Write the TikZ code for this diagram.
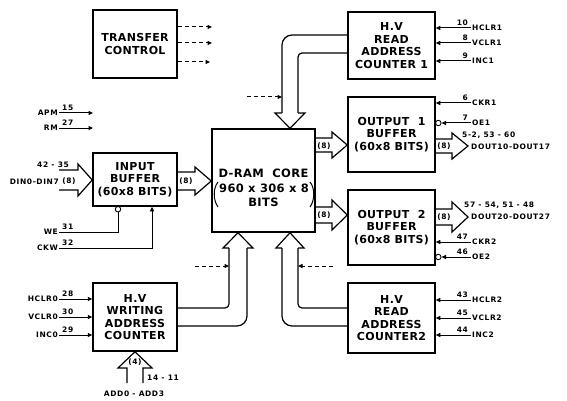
\documentclass[tikz,border=0pt]{standalone}
\usepackage{fontspec}
\setmainfont{DejaVu Sans}
\newfontfamily\myboxfam[LetterSpace=3]{DejaVu Sans Bold}
\newfontfamily\mylblfam[LetterSpace=8]{DejaVu Sans Bold}
\newcommand\myboxfont{\myboxfam\fontsize{11}{12.5}\selectfont}
\newcommand\mycorefont{\myboxfam\fontsize{11.5}{14.5}\selectfont}
\newcommand\mylblfont{\mylblfam\fontsize{7.5}{9}\selectfont}
\usetikzlibrary{arrows.meta,calc}
\begin{document}
\begin{tikzpicture}[x=1pt,y=-1pt,
  box/.style={draw,line width=1.5pt,inner sep=0pt,align=center,font=\myboxfont},
  ctxt/.style={font=\mycorefont,inner sep=0pt},
  sig/.style={line width=1pt,-{Triangle[length=4.5pt,width=4pt]}},
  wire/.style={line width=1pt},
  dsh/.style={line width=1pt,dash pattern=on 4pt off 3pt,-{Triangle[length=4.5pt,width=4pt]}},
  bus/.style={line width=1.2pt,line join=miter},
  lbl/.style={font=\mylblfont,inner sep=1pt},
  inv/.style={circle,draw,line width=0.9pt,inner sep=0pt,minimum size=5.5pt}]
\useasboundingbox (0,0) rectangle (567,401);

% ---------- boxes ----------
\node[box,minimum width=84pt,minimum height=68pt] (tc) at (135,44) {TRANSFER\\CONTROL};
\node[box,minimum width=87pt,minimum height=67pt] (rc1) at (391.5,45.5) {H.V\\READ\\ADDRESS\\COUNTER 1};
\node[box,minimum width=87pt,minimum height=75pt] (ob1) at (391.5,134.5) {OUTPUT\ \ 1\\BUFFER\\(60x8 BITS)};
\node[box,minimum width=87pt,minimum height=75pt] (ob2) at (391.5,227.5) {OUTPUT\ \ 2\\BUFFER\\(60x8 BITS)};
\node[box,minimum width=87pt,minimum height=70pt] (rc2) at (391.5,318) {H.V\\READ\\ADDRESS\\COUNTER2};
\node[box,minimum width=103pt,minimum height=103pt] (core) at (263.5,180.5) {};
\node[ctxt] (core1) at (263.5,173) {D-RAM\ \ CORE};
\node[ctxt] (core2) at (264,188) {960 x 306 x 8};
\node[ctxt] (core3) at (263.5,202) {BITS};
\draw[wire] ($(core2.west)+(-1,-6)$) .. controls ($(core2.west)+(-6,0)$) and ($(core2.west)+(-6,12)$) .. ($(core2.west)+(-1,19)$);
\draw[wire] ($(core2.east)+(1,-6)$) .. controls ($(core2.east)+(6,0)$) and ($(core2.east)+(6,12)$) .. ($(core2.east)+(1,19)$);
\node[box,minimum width=84pt,minimum height=53pt] (ib) at (135,179.5) {INPUT\\BUFFER\\(60x8 BITS)};
\node[box,minimum width=84pt,minimum height=68pt] (wc) at (135,317) {H.V\\WRITING\\ADDRESS\\COUNTER};

% ---------- transfer control dashed outputs ----------
\coordinate (tc1) at (212,27);
\coordinate (tc2) at (212,43);
\coordinate (tc3) at (210,62);
\draw[dsh] (tc.east|-tc1) -- (tc1);
\draw[dsh] (tc.east|-tc2) -- (tc2);
\draw[dsh] (tc.east|-tc3) -- (tc3);

% ---------- APM / RM ----------
\node[lbl,anchor=east] (tapm) at (59,113) {APM};
\node[lbl,anchor=south west] (n15) at (61,112) {15};
\coordinate (apmend) at (93,113);
\draw[sig] (tapm.east) -- (apmend);
\node[lbl,anchor=east] (trm) at (59,128) {RM};
\node[lbl,anchor=south west] (n27) at (61,127) {27};
\coordinate (rmend) at (93,128);
\draw[sig] (trm.east) -- (rmend);

% ---------- data input ----------
\node[lbl,anchor=east,inner sep=0pt] (tdin) at (59,182) {DIN0-DIN7};
\node[lbl] (n4235) at (53,165) {42 - 35};
\draw[bus] (tdin.east|-0,170) -- (78,170) -- (78,164) -- (ib.west|-0,180) -- (78,196) -- (78,190) -- (tdin.east|-0,190);
\node[lbl] (b8a) at (69,181) {(8)};

% WE / CKW
\node[lbl,anchor=east] (twe) at (59,232) {WE};
\node[lbl,anchor=south west] (n31) at (61,231) {31};
\node[inv] (invwe) at (118,209.2) {};
\draw[wire] (twe.east) -| (invwe.south);
\node[lbl,anchor=east] (tckw) at (59,248) {CKW};
\node[lbl,anchor=south west] (n32) at (61,247) {32};
\draw[sig] (tckw.east) -| (ib.south-|152,0);

% ib -> core
\draw[bus] (ib.east|-0,172) -- (195,172) -- (195,167) -- (core.west|-0,181) -- (195,195) -- (195,190) -- (ib.east|-0,190);
\node[lbl] (b8b) at (186,181) {(8)};

% core -> ob1, ob2
\draw[bus] (core.east|-0,138) -- (332,138) -- (332,132) -- (ob1.west|-0,145) -- (332,158) -- (332,152) -- (core.east|-0,152);
\node[lbl] (b8c) at (324,146) {(8)};
\draw[bus] (core.east|-0,207) -- (332,207) -- (332,200) -- (ob2.west|-0,215) -- (332,230) -- (332,223) -- (core.east|-0,223);
\node[lbl] (b8d) at (324,215.5) {(8)};

% ob1, ob2 -> outputs
\coordinate (dout1) at (468,146);
\draw[bus] (ob1.east|-0,139) -- (452,139) -- (452,133) -- (dout1) -- (452,159) -- (452,153) -- (ob1.east|-0,153);
\node[lbl] (b8e) at (444,146) {(8)};
\node[lbl,anchor=west] (t1a) at (461,135) {5-2, 53 - 60};
\node[lbl,anchor=west] (t1b) at (470,147) {DOUT10-DOUT17};
\coordinate (dout2) at (468,217);
\draw[bus] (ob2.east|-0,209) -- (452,209) -- (452,202) -- (dout2) -- (452,232) -- (452,225) -- (ob2.east|-0,225);
\node[lbl] (b8f) at (444,217) {(8)};
\node[lbl,anchor=west] (t2a) at (463,205) {57 - 54, 51 - 48};
\node[lbl,anchor=west] (t2b) at (470,217) {DOUT20-DOUT27};

% ---------- right-side control inputs ----------
\foreach \nm/\bx/\y/\n/\txt in {hclra/rc1/28/10/HCLR1, vclra/rc1/43/8/VCLR1, inca/rc1/61/9/INC1,
    ckra/ob1/103/6/CKR1, ckrb/ob2/242/47/CKR2,
    hclrb/rc2/300/43/HCLR2, vclrb/rc2/318/45/VCLR2, incb/rc2/335/44/INC2}{
  \node[lbl,anchor=west] (t\nm) at (471,\y) {\txt};
  \node[lbl,anchor=south east] (n\nm) at (469,\y-1) {\n};
  \draw[sig] (t\nm.west) -- (\bx.east|-t\nm.west);
}
\node[lbl,anchor=west] (toea) at (471,123) {OE1};
\node[lbl,anchor=south east] (noea) at (469,122) {7};
\node[inv] (inva) at (438.3,123) {};
\draw[sig] (toea.west) -- (inva.east);
\node[lbl,anchor=west] (toeb) at (471,257) {OE2};
\node[lbl,anchor=south east] (noeb) at (469,256) {46};
\node[inv] (invb) at (438.3,257) {};
\draw[sig] (toeb.west) -- (invb.east);

% ---------- writing counter inputs ----------
\foreach \nm/\y/\n/\txt in {hclrw/299/28/HCLR0, vclrw/317/30/VCLR0, incw/335/29/INC0}{
  \node[lbl,anchor=east] (t\nm) at (59,\y) {\txt};
  \node[lbl,anchor=south west] (n\nm) at (61,\y-1) {\n};
  \draw[sig] (t\nm.east) -- (wc.west|-t\nm.east);
}
% address input
\draw[bus] (127,383) -- (127,368) -- (118,368) -- (wc.south) -- (152,368) -- (143,368) -- (143,383);
\node[lbl] (b4) at (135,362) {(4)};
\node[lbl,anchor=west] (t1411) at (146,378) {14 - 11};
\node[lbl] (tadd) at (134,394) {ADD0 - ADD3};

% ---------- address buses ----------
% read counter 1 -> core top
\draw[bus,rounded corners=10pt] (rc1.west|-0,35) -- (282,35) -- (282,113);
\draw[bus,rounded corners=4pt] (rc1.west|-0,53) -- (298,53) -- (298,113);
\draw[bus] (282,113) -- (275,113) -- (290,0|-core.north) -- (305,113) -- (298,113);
\coordinate (d1) at (247,97);
\draw[dsh] (d1) -- (282,97);
% writing counter -> core bottom
\draw[bus,rounded corners=10pt] (wc.east|-0,326) -- (247,326) -- (247,248);
\draw[bus,rounded corners=4pt] (wc.east|-0,308) -- (229,308) -- (229,248);
\draw[bus] (229,248) -- (223,248) -- (238,0|-core.south) -- (253,248) -- (247,248);
\coordinate (d2) at (195,266);
\draw[dsh] (d2) -- (229,266);
% read counter 2 -> core bottom
\draw[bus,rounded corners=10pt] (rc2.west|-0,326) -- (282,326) -- (282,248);
\draw[bus,rounded corners=4pt] (rc2.west|-0,308) -- (298,308) -- (298,248);
\draw[bus] (282,248) -- (276,248) -- (290,0|-core.south) -- (304,248) -- (298,248);
\coordinate (d3) at (333,266);
\draw[dsh] (d3) -- (298,266);
\end{tikzpicture}
\end{document}
